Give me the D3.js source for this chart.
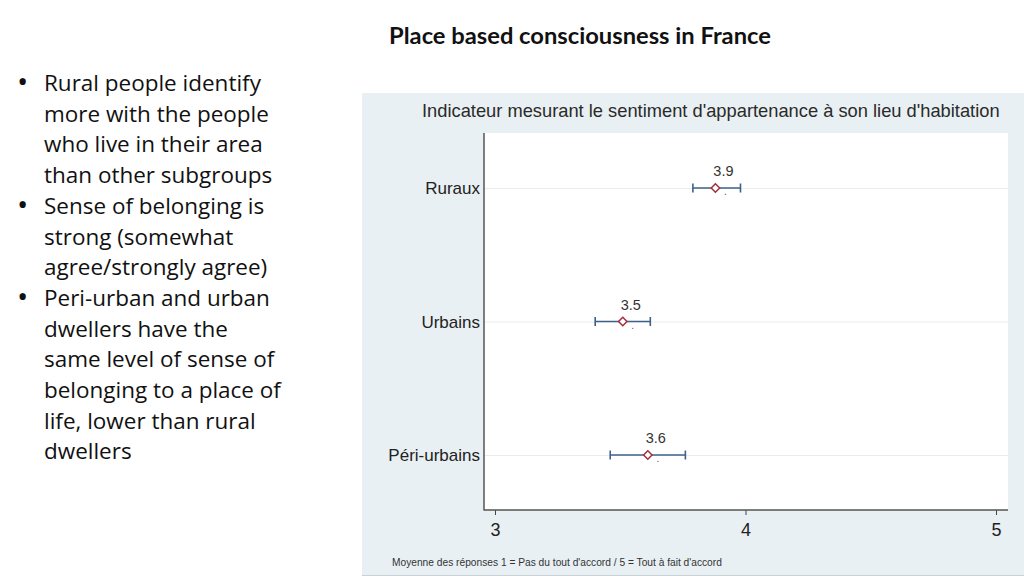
<!DOCTYPE html>
<html><head><meta charset="utf-8">
<script src="https://cdn.jsdelivr.net/npm/d3@7"></script>
<style>body{margin:0;background:#fff}svg{display:block}</style>
</head><body>
<script>
const categories = ["Ruraux", "Urbains", "Péri-urbains"];
const means = [3.88, 3.51, 3.61];
const ciLow = [3.79, 3.40, 3.46];
const ciHigh = [3.98, 3.62, 3.76];
const meanLabels = ["3.9", "3.5", "3.6"];
const xTicks = [3, 4, 5];
const bullets = [
  ["Rural people identify", "more with the people", "who live in their area", "than other subgroups"],
  ["Sense of belonging is", "strong (somewhat", "agree/strongly agree)"],
  ["Peri-urban and urban", "dwellers have the", "same level of sense of", "belonging to a place of", "life, lower than rural", "dwellers"]
];
const pageTitle = "Place based consciousness in France";
const chartTitle = "Indicateur mesurant le sentiment d'appartenance à son lieu d'habitation";
const footnote = "Moyenne des réponses 1 = Pas du tout d'accord / 5 = Tout à fait d'accord";

const W = 1024, H = 576;
const svg = d3.select("body").append("svg").attr("width", W).attr("height", H);
svg.append("rect").attr("width", W).attr("height", H).attr("fill", "#fff");

function fitText(sel, width) {
  const node = sel.node();
  let fs = parseFloat(sel.attr("font-size"));
  const len = node.getComputedTextLength();
  sel.attr("font-size", (fs * width / len).toFixed(2));
}

// page title
const pt = svg.append("text").attr("x", 580).attr("y", 44).attr("text-anchor", "middle")
  .attr("font-family", "Lato, 'Open Sans', sans-serif").attr("font-weight", "bold")
  .attr("font-size", 22).attr("fill", "#111").text(pageTitle);
fitText(pt, 382);

// bullets
const lineH = 30.7;
let li = 0;
const bg = svg.append("g").attr("font-family", "'Open Sans', Lato, sans-serif").attr("fill", "#111");
bullets.forEach(b => {
  bg.append("text").attr("class", "dot").attr("x", 17).attr("y", 92 + li * lineH).attr("font-size", 30).text("•");
  b.forEach(line => {
    bg.append("text").attr("class", "ln").attr("x", 44).attr("y", 91 + li * lineH).attr("font-size", 21).text(line);
    li++;
  });
});
{
  const first = bg.select("text.ln");
  const len = first.node().getComputedTextLength();
  const fs = 21 * 217 / len;
  bg.selectAll("text.ln").attr("font-size", fs.toFixed(2));
}

// chart panel
const panel = {x: 362, y: 93, w: 662, h: 483};
svg.append("rect").attr("x", panel.x).attr("y", panel.y).attr("width", panel.w).attr("height", panel.h)
  .attr("fill", "#e9f0f3");
svg.append("line").attr("x1", panel.x).attr("x2", W).attr("y1", 575.5).attr("y2", 575.5).attr("stroke", "#c9d1d5");

const plot = {l: 484, r: 1008, t: 133, b: 510};
svg.append("rect").attr("x", plot.l).attr("y", plot.t).attr("width", plot.r - plot.l).attr("height", plot.b - plot.t)
  .attr("fill", "#fff");

const ct = svg.append("text").attr("x", 422).attr("y", 117).attr("font-family", "'Liberation Sans', Arial, sans-serif")
  .attr("font-size", 18).attr("fill", "#2a2a2a").text(chartTitle);
fitText(ct, 578);

const x = d3.scaleLinear().domain([3, 5]).range([495, 996]);
const y = d3.scalePoint().domain(categories).range([188, 455]);

// gridlines
svg.append("g").selectAll("line").data(categories).join("line")
  .attr("x1", plot.l).attr("x2", plot.r).attr("y1", d => y(d) + 0.5).attr("y2", d => y(d) + 0.5)
  .attr("stroke", "#ececec").attr("stroke-width", 1);

// x axis
const xa = svg.append("g").attr("transform", `translate(0,${plot.b})`)
  .call(d3.axisBottom(x).tickValues(xTicks).tickFormat(d3.format("d")).tickSize(5).tickPadding(8));
xa.select(".domain").remove();
xa.selectAll("line").attr("stroke", "#444");
xa.selectAll("text").attr("font-family", "'Liberation Sans', Arial, sans-serif").attr("font-size", 18).attr("fill", "#222");

// y axis
const ya = svg.append("g").attr("transform", `translate(${plot.l},0)`)
  .call(d3.axisLeft(y).tickSize(0).tickPadding(4));
ya.select(".domain").remove();
ya.selectAll("text").attr("font-family", "'Liberation Sans', Arial, sans-serif").attr("font-size", 17).attr("fill", "#222").attr("dy", "0.35em");

// axis lines
svg.append("line").attr("x1", plot.l).attr("x2", plot.l).attr("y1", plot.t).attr("y2", plot.b + 0.5).attr("stroke", "#555").attr("stroke-width", 1.5);
svg.append("line").attr("x1", plot.l).attr("x2", plot.r).attr("y1", plot.b).attr("y2", plot.b).attr("stroke", "#555").attr("stroke-width", 1.5);

// error bars
const data = categories.map((c, i) => ({c, m: means[i], lo: ciLow[i], hi: ciHigh[i], lab: meanLabels[i]}));
const eb = svg.append("g").attr("stroke", "#3c628c").attr("stroke-width", 1.6);
eb.selectAll(".h").data(data).join("line")
  .attr("x1", d => x(d.lo)).attr("x2", d => x(d.hi)).attr("y1", d => y(d.c)).attr("y2", d => y(d.c));
eb.selectAll(".lc").data(data).join("line")
  .attr("x1", d => x(d.lo)).attr("x2", d => x(d.lo)).attr("y1", d => y(d.c) - 4.5).attr("y2", d => y(d.c) + 4.5);
eb.selectAll(".hc").data(data).join("line")
  .attr("x1", d => x(d.hi)).attr("x2", d => x(d.hi)).attr("y1", d => y(d.c) - 4.5).attr("y2", d => y(d.c) + 4.5);

// diamonds
svg.append("g").selectAll("path").data(data).join("path")
  .attr("d", d3.symbol(d3.symbolDiamond2, 45)())
  .attr("transform", d => `translate(${x(d.m)},${y(d.c)})`)
  .attr("fill", "#fff").attr("stroke", "#a3303c").attr("stroke-width", 1.5);

// labels
svg.append("g").selectAll("text").data(data).join("text")
  .attr("x", d => x(d.m) + 8).attr("y", d => y(d.c) - 12).attr("text-anchor", "middle")
  .attr("font-family", "'Liberation Sans', Arial, sans-serif").attr("font-size", 14.5).attr("fill", "#333")
  .text(d => d.lab);
svg.append("g").selectAll("text").data(data).join("text")
  .attr("x", d => x(d.m) + 10).attr("y", d => y(d.c) + 7).attr("text-anchor", "middle")
  .attr("font-family", "'Liberation Sans', Arial, sans-serif").attr("font-size", 10).attr("fill", "#555")
  .text(".");

const fn = svg.append("text").attr("x", 392).attr("y", 566).attr("font-family", "'Liberation Sans', Arial, sans-serif")
  .attr("font-size", 11).attr("fill", "#333").text(footnote);
fitText(fn, 330);
</script>
</body></html>
